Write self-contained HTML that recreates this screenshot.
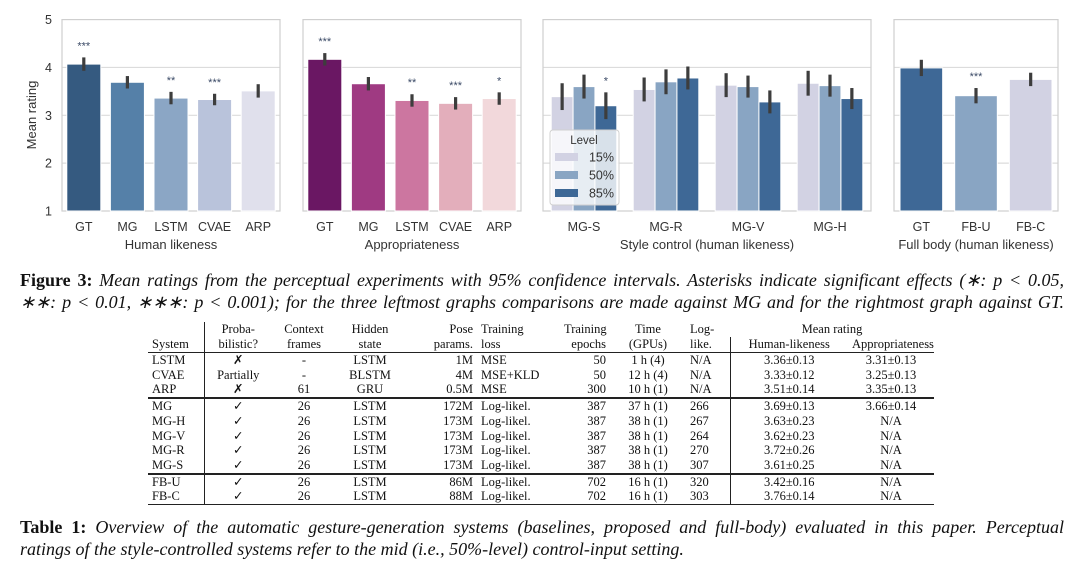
<!DOCTYPE html>
<html><head><meta charset="utf-8">
<style>
body{margin:0;background:#fff;width:1080px;height:571px;overflow:hidden;position:relative;font-family:"Liberation Serif",serif;}
#chart{position:absolute;left:0;top:0;}
.cap{position:absolute;left:20px;width:1044px;font-size:18px;line-height:22px;text-align:justify;color:#111;}
.cap div{white-space:nowrap}
.cap i{font-style:italic}
.j{text-align-last:justify}
table{position:absolute;left:148px;top:322px;border-collapse:collapse;font-size:12.5px;color:#111;table-layout:fixed;width:786px;}
td{padding:0 4px;height:14.7px;line-height:14.7px;white-space:nowrap;}
thead td{height:15px;line-height:15px;vertical-align:bottom}
.c{text-align:center}.r{text-align:right}.l{text-align:left}
.vl{border-right:1px solid #222}
tr.mid td{border-bottom:1px solid #222}
tr.thick td{border-bottom:2px solid #222}
tr.bot td{border-bottom:1px solid #222}
</style></head><body>
<svg id="chart" width="1080" height="260" xmlns="http://www.w3.org/2000/svg" font-family="Liberation Sans, sans-serif"></svg>

<div class="cap" style="top:269px">
<div class="j"><b>Figure 3:</b> <i>Mean ratings from the perceptual experiments with 95% confidence intervals. Asterisks indicate significant effects (∗: p &lt; 0.05,</i></div>
<div class="j"><i>∗∗: p &lt; 0.01, ∗∗∗: p &lt; 0.001); for the three leftmost graphs comparisons are made against MG and for the rightmost graph against GT.</i></div>
</div>

<table>
<colgroup><col style="width:56px"><col style="width:68px"><col style="width:64px"><col style="width:68px"><col style="width:73px"><col style="width:83px"><col style="width:50px"><col style="width:76px"><col style="width:44px"><col style="width:118px"><col style="width:86px"></colgroup>
<thead>
<tr><td class="vl"></td><td class="c">Proba-</td><td class="c">Context</td><td class="c">Hidden</td><td class="r">Pose</td><td class="l">Training</td><td class="r">Training</td><td class="c">Time</td><td class="l">Log-</td><td class="c" colspan="2">Mean rating</td></tr>
<tr class="mid"><td class="vl">System</td><td class="c">bilistic?</td><td class="c">frames</td><td class="c">state</td><td class="r">params.</td><td class="l">loss</td><td class="r">epochs</td><td class="c">(GPUs)</td><td class="l vl">like.</td><td class="c">Human-likeness</td><td class="c">Appropriateness</td></tr>
</thead>
<tbody>
<tr><td class="vl">LSTM</td><td class="c">✗</td><td class="c">-</td><td class="c">LSTM</td><td class="r">1M</td><td>MSE</td><td class="r">50</td><td class="c">1 h (4)</td><td class="vl">N/A</td><td class="c">3.36±0.13</td><td class="c">3.31±0.13</td></tr>
<tr><td class="vl">CVAE</td><td class="c">Partially</td><td class="c">-</td><td class="c">BLSTM</td><td class="r">4M</td><td>MSE+KLD</td><td class="r">50</td><td class="c">12 h (4)</td><td class="vl">N/A</td><td class="c">3.33±0.12</td><td class="c">3.25±0.13</td></tr>
<tr class="thick"><td class="vl">ARP</td><td class="c">✗</td><td class="c">61</td><td class="c">GRU</td><td class="r">0.5M</td><td>MSE</td><td class="r">300</td><td class="c">10 h (1)</td><td class="vl">N/A</td><td class="c">3.51±0.14</td><td class="c">3.35±0.13</td></tr>
<tr><td class="vl">MG</td><td class="c">✓</td><td class="c">26</td><td class="c">LSTM</td><td class="r">172M</td><td>Log-likel.</td><td class="r">387</td><td class="c">37 h (1)</td><td class="vl">266</td><td class="c">3.69±0.13</td><td class="c">3.66±0.14</td></tr>
<tr><td class="vl">MG-H</td><td class="c">✓</td><td class="c">26</td><td class="c">LSTM</td><td class="r">173M</td><td>Log-likel.</td><td class="r">387</td><td class="c">38 h (1)</td><td class="vl">267</td><td class="c">3.63±0.23</td><td class="c">N/A</td></tr>
<tr><td class="vl">MG-V</td><td class="c">✓</td><td class="c">26</td><td class="c">LSTM</td><td class="r">173M</td><td>Log-likel.</td><td class="r">387</td><td class="c">38 h (1)</td><td class="vl">264</td><td class="c">3.62±0.23</td><td class="c">N/A</td></tr>
<tr><td class="vl">MG-R</td><td class="c">✓</td><td class="c">26</td><td class="c">LSTM</td><td class="r">173M</td><td>Log-likel.</td><td class="r">387</td><td class="c">38 h (1)</td><td class="vl">270</td><td class="c">3.72±0.26</td><td class="c">N/A</td></tr>
<tr class="thick"><td class="vl">MG-S</td><td class="c">✓</td><td class="c">26</td><td class="c">LSTM</td><td class="r">173M</td><td>Log-likel.</td><td class="r">387</td><td class="c">38 h (1)</td><td class="vl">307</td><td class="c">3.61±0.25</td><td class="c">N/A</td></tr>
<tr><td class="vl">FB-U</td><td class="c">✓</td><td class="c">26</td><td class="c">LSTM</td><td class="r">86M</td><td>Log-likel.</td><td class="r">702</td><td class="c">16 h (1)</td><td class="vl">320</td><td class="c">3.42±0.16</td><td class="c">N/A</td></tr>
<tr class="bot"><td class="vl">FB-C</td><td class="c">✓</td><td class="c">26</td><td class="c">LSTM</td><td class="r">88M</td><td>Log-likel.</td><td class="r">702</td><td class="c">16 h (1)</td><td class="vl">303</td><td class="c">3.76±0.14</td><td class="c">N/A</td></tr>
</tbody></table>

<div class="cap" style="top:516px">
<div class="j"><b>Table 1:</b> <i>Overview of the automatic gesture-generation systems (baselines, proposed and full-body) evaluated in this paper. Perceptual</i></div>
<div><i>ratings of the style-controlled systems refer to the mid (i.e., 50%-level) control-input setting.</i></div>
</div>

<script>
const yTicks = [1, 2, 3, 4, 5];
const hlCats = ['GT', 'MG', 'LSTM', 'CVAE', 'ARP'];
const hlVals = [4.07, 3.69, 3.36, 3.33, 3.51];
const hlErr = [0.14, 0.13, 0.13, 0.12, 0.14];
const hlStars = ['***', '', '**', '***', ''];
const apCats = ['GT', 'MG', 'LSTM', 'CVAE', 'ARP'];
const apVals = [4.17, 3.66, 3.31, 3.25, 3.35];
const apErr = [0.13, 0.14, 0.13, 0.13, 0.13];
const apStars = ['***', '', '**', '***', '*'];
const scCats = ['MG-S', 'MG-R', 'MG-V', 'MG-H'];
const scLevels = ['15%', '50%', '85%'];
const sc15 = [3.39, 3.54, 3.63, 3.67];
const sc50 = [3.60, 3.70, 3.60, 3.62];
const sc85 = [3.20, 3.78, 3.28, 3.35];
const sc15Err = [0.28, 0.25, 0.25, 0.26];
const sc50Err = [0.25, 0.26, 0.23, 0.23];
const sc85Err = [0.28, 0.24, 0.24, 0.22];
const sc85Stars = ['*', '', '', ''];
const fbCats = ['GT', 'FB-U', 'FB-C'];
const fbVals = [3.99, 3.41, 3.75];
const fbErr = [0.17, 0.16, 0.14];
const fbStars = ['', '***', ''];

const svg = document.getElementById('chart');
const NS = 'http://www.w3.org/2000/svg';
function mk(tag, attrs, parent) {
  const e = document.createElementNS(NS, tag);
  for (const k in attrs) e.setAttribute(k, attrs[k]);
  (parent || svg).appendChild(e);
  return e;
}
const Y0 = 211, Y5 = 19.6;
function yScale(v) { return Y0 - (v - 1) * (Y0 - Y5) / 4; }

function panel(x0, w, title, name, showY) {
  const g = mk('g', {});
  
  
  yTicks.forEach((t, i) => {
    if (i > 0 && i < yTicks.length - 1) {
      const gl = mk('line', {x1: x0, x2: x0 + w, y1: yScale(t), y2: yScale(t), stroke: '#dcdcdc', 'stroke-width': 1.2}, g);
      
      
    }
    if (showY) {
      const tl = mk('text', {x: 52, y: yScale(t) + 4.5, 'text-anchor': 'end', 'font-size': 12.5, fill: '#333'}, svg);
      tl.textContent = t;
      
      
    }
  });
  const fr = mk('rect', {x: x0, y: Y5, width: w, height: Y0 - Y5, fill: 'none', stroke: '#cfcfcf', 'stroke-width': 1.2}, g);
  
  
  const tt = mk('text', {x: x0 + w / 2, y: 249, 'text-anchor': 'middle', 'font-size': 13, fill: '#333'}, g);
  tt.textContent = title;
  
  
  return g;
}
function bar(g, cx, bw, v, err, color, star) {
  const r = mk('rect', {x: cx - bw / 2, y: yScale(v), width: bw, height: Y0 - yScale(v), fill: color, stroke: '#fff', 'stroke-width': 1}, g);
  
  
  const e = mk('line', {x1: cx, x2: cx, y1: yScale(v + err), y2: yScale(v - err), stroke: '#3d3d3d', 'stroke-width': 3.2}, g);
  
  
  if (star) {
    const s = mk('text', {x: cx, y: yScale(v + err) - 8, 'text-anchor': 'middle', 'font-size': 11, fill: '#3b4a66'}, g);
    s.textContent = star;
    
    
  }
}
function xLabel(g, cx, txt) {
  const t = mk('text', {x: cx, y: 231, 'text-anchor': 'middle', 'font-size': 12.5, fill: '#333'}, g);
  t.textContent = txt;
  
  
}
function simple(x0, w, cats, vals, errs, stars, colors, title, name, showY) {
  const g = panel(x0, w, title, name, showY);
  const step = w / cats.length;
  cats.forEach((c, i) => {
    const cx = x0 + step * (i + 0.5);
    bar(g, cx, step * 0.78, vals[i], errs[i], colors[i], stars[i]);
    xLabel(g, cx, c);
  });
}
simple(62, 218, hlCats, hlVals, hlErr, hlStars, ['#355a80', '#5580a8', '#8ba6c5', '#b9c3db', '#e0e0ec'], 'Human likeness', 'human-likeness-panel', true);
simple(303, 218, apCats, apVals, apErr, apStars, ['#6a1763', '#9f3a82', '#cc76a0', '#e3aebb', '#f2d8db'], 'Appropriateness', 'appropriateness-panel', false);
simple(894, 164, fbCats, fbVals, fbErr, fbStars, ['#3e6896', '#89a5c3', '#d2d2e3'], 'Full body (human likeness)', 'full-body-panel', false);

(function () {
  const x0 = 543, w = 328;
  const g = panel(x0, w, 'Style control (human likeness)', 'style-control-panel', false);
  const step = w / scCats.length, bw = step * 0.8 / 3;
  const series = [sc15, sc50, sc85], errs = [sc15Err, sc50Err, sc85Err];
  const cols = ['#d2d2e3', '#89a5c3', '#3e6896'];
  scCats.forEach((c, i) => {
    const cx = x0 + step * (i + 0.5);
    series.forEach((s, j) => {
      bar(g, cx + (j - 1) * bw, bw, s[i], errs[j][i], cols[j], j === 2 ? sc85Stars[i] : '');
    });
    xLabel(g, cx, c);
  });
  const lg = mk('g', {}, g);
  
  
  mk('rect', {x: 550, y: 130, width: 69, height: 75, rx: 3, fill: 'rgba(255,255,255,0.8)', stroke: '#d0d0d0'}, lg);
  const lt = mk('text', {x: 584, y: 144, 'text-anchor': 'middle', 'font-size': 11.5, fill: '#333'}, lg);
  lt.textContent = 'Level';
  
  
  scLevels.forEach((l, j) => {
    const cy = 157 + j * 18;
    const p = mk('rect', {x: 555, y: cy - 4, width: 23, height: 8, fill: cols[j]}, lg);
    
    
    const t = mk('text', {x: 614, y: cy + 4.5, 'text-anchor': 'end', 'font-size': 12.5, fill: '#333'}, lg);
    t.textContent = l;
    
    
  });
})();
const yt = mk('text', {x: 0, y: 0, 'text-anchor': 'middle', 'font-size': 13, fill: '#333', transform: 'translate(36,115) rotate(-90)'});
yt.textContent = 'Mean rating';


</script>
</body></html>
